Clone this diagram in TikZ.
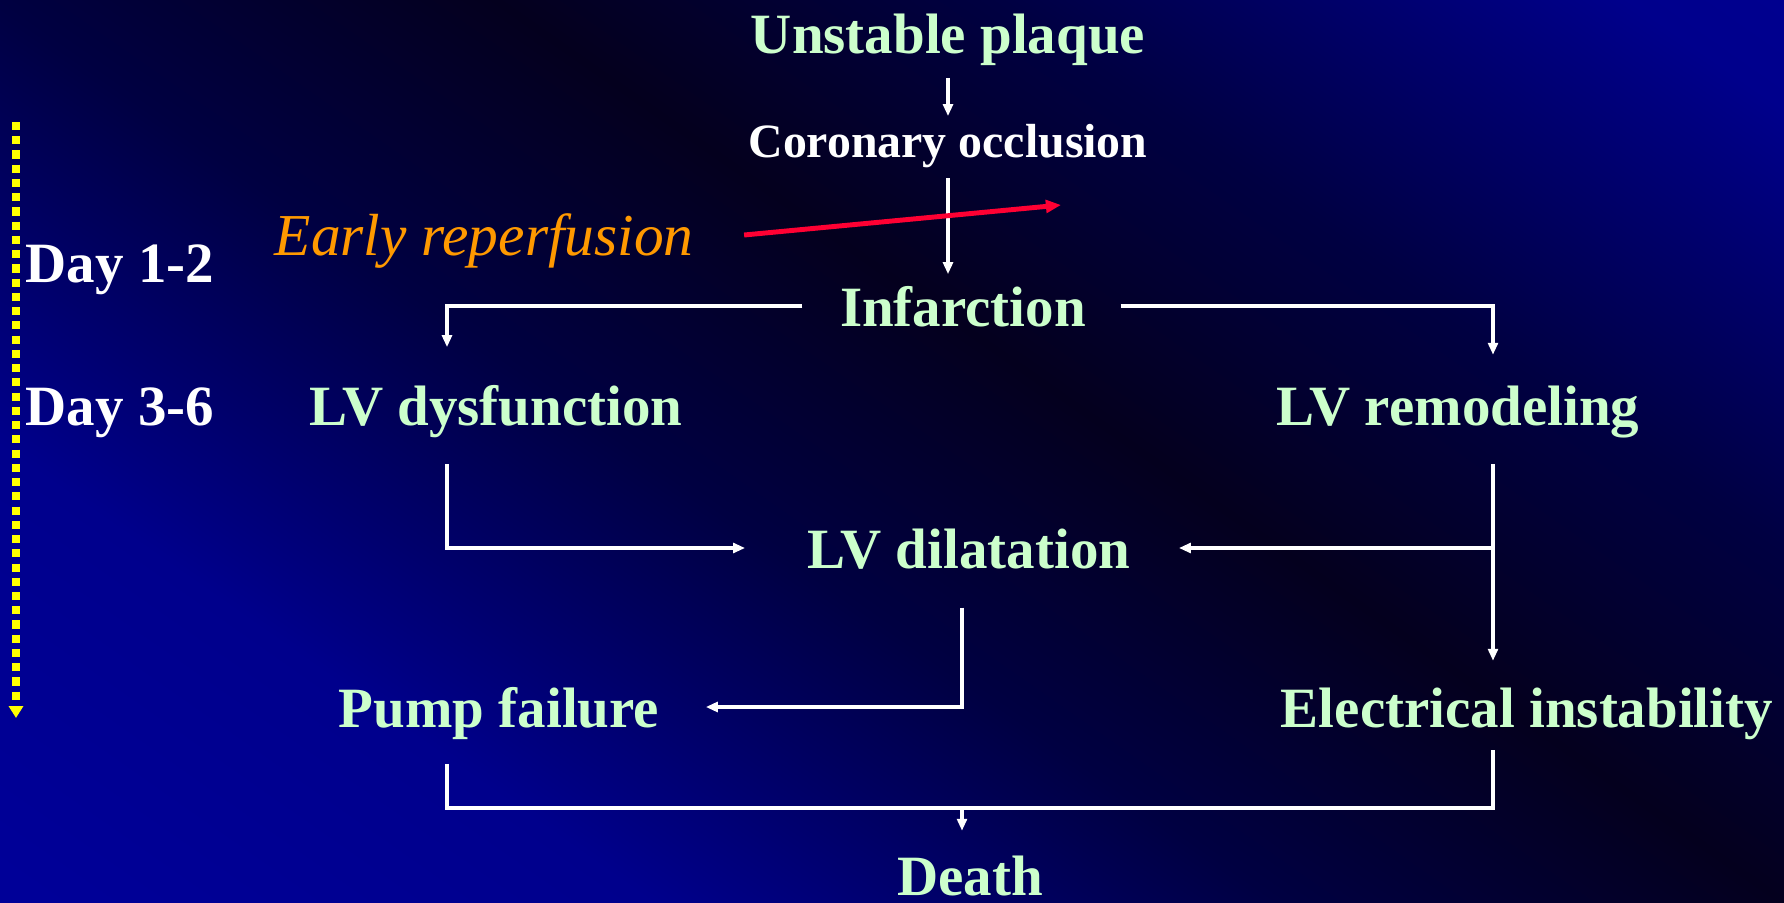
\documentclass[tikz,border=0pt]{standalone}
\usepackage{fontspec}
\setmainfont{Liberation Serif}
\usetikzlibrary{arrows.meta,calc}
\definecolor{txtgreen}{RGB}{204,255,204}
\definecolor{reorange}{RGB}{255,153,0}
\definecolor{redarrow}{RGB}{255,0,51}
\definecolor{dotyellow}{RGB}{255,255,0}
\definecolor{bgA}{RGB}{0,0,152}
\definecolor{bgB}{RGB}{0,0,140}
\definecolor{bgC}{RGB}{0,0,66}
\definecolor{bgD}{RGB}{4,0,30}
\pgfdeclareverticalshading{bgband}{100bp}{color(0bp)=(bgA); color(29.17bp)=(bgA); color(36.46bp)=(bgB); color(43.96bp)=(bgC); color(50bp)=(bgD); color(56.04bp)=(bgC); color(63.54bp)=(bgB); color(70.83bp)=(bgA); color(100bp)=(bgA)}
\tikzset{
  lbl/.style={inner sep=0pt, anchor=base, text=txtgreen, font=\fontsize{16.2}{19}\selectfont\bfseries},
  daylbl/.style={inner sep=0pt, anchor=base west, text=white, font=\fontsize{16.2}{19}\selectfont\bfseries},
  conn/.style={draw=white, line width=0.9pt, -{Triangle[length=3.4pt,width=2.8pt]}},
  bracketline/.style={draw=white, line width=1.3pt},
  redline/.style={draw=redarrow, line width=1.4pt, -{Triangle[length=4.3pt,width=3.6pt]}},
  timeline/.style={draw=dotyellow, line width=2.3pt, dash pattern=on 2.3pt off 1.75pt, -{Triangle[length=3.4pt,width=4pt]}}
}
\begin{document}
\begin{tikzpicture}[x=0.01cm, y=-0.01cm]
\useasboundingbox (0,0) rectangle (1784,903);
\begin{scope}
  \clip (0,0) rectangle (1784,903);
  \begin{scope}[transform canvas={shift={(1140,451)}, rotate=-35}]
    \shade[shading=bgband] (-2400,-1200) rectangle (2400,1200);
  \end{scope}
\end{scope}

% text nodes
\node[lbl] (up) at (948,53) {Unstable plaque};
\node[lbl, text=white, font=\fontsize{13.6}{16}\selectfont\bfseries] (cor) at (948,157) {Coronary occlusion};
\node[inner sep=0pt, anchor=base west, text=reorange, font=\fontsize{16.9}{19}\selectfont\itshape] (early) at (274,255) {Early reperfusion};
\node[lbl] (inf) at (963,326) {Infarction};
\node[daylbl] (d12) at (25,282) {Day 1-2};
\node[daylbl] (d36) at (25,425) {Day 3-6};
\node[lbl] (dys) at (496,425) {LV dysfunction};
\node[lbl] (rem) at (1458,425) {LV remodeling};
\node[lbl] (dil) at (969,568) {LV dilatation};
\node[lbl] (pump) at (499,727) {Pump failure};
\node[lbl] (elec) at (1527,727) {Electrical instability};
\node[lbl] (death) at (970,895) {Death};

% column coordinates
\coordinate (colL) at (447,0);
\coordinate (colM) at (962,0);
\coordinate (colR) at (1493,0);
\coordinate (redend) at (1061,205);
\coordinate (ytop) at (16,122);
\coordinate (ybot) at (16,718);
\coordinate (bj) at ($(colM |- elec.south)+(0,68)$);

% timeline
\draw[timeline] (ytop) -- (ybot);

% connectors
\draw[conn, shorten <=0.12cm, shorten >=0.07cm] (up.south) -- (up.south |- cor.north);
\draw[conn, shorten <=0.10cm, shorten >=0.11cm] (cor.south) -- (cor.south |- inf.north);
\draw[redline] ($(early.base east)+(50,-20)$) -- (redend);
\draw[conn, shorten <=0.37cm, shorten >=0.37cm] ($(inf.base west)+(0,-20)$) -| (colL |- dys.north);
\draw[conn, shorten <=0.34cm, shorten >=0.30cm] ($(inf.base east)+(0,-20)$) -| (colR |- rem.north);
\draw[conn, shorten <=0.26cm, shorten >=0.62cm] (colL |- dys.south) |- ($(dil.base west)+(0,-20)$);
\draw[conn, shorten <=0.26cm, shorten >=0.26cm] (colR |- rem.south) -- (colR |- elec.north);
\draw[conn, shorten >=0.48cm] ($(colR |- dil.base)+(0,-20)$) -- ($(dil.base east)+(0,-20)$);
\draw[conn, shorten <=0.38cm, shorten >=0.46cm] (colM |- dil.south) |- ($(pump.base east)+(0,-20)$);
\draw[bracketline] ($(colL |- pump.south)+(0,24)$) |- ($(colR |- elec.south)+(0,68)$) -- ($(colR |- elec.south)+(0,10)$);
\draw[conn, shorten >=0.24cm] (bj) -- (bj |- death.north);
\end{tikzpicture}
\end{document}
